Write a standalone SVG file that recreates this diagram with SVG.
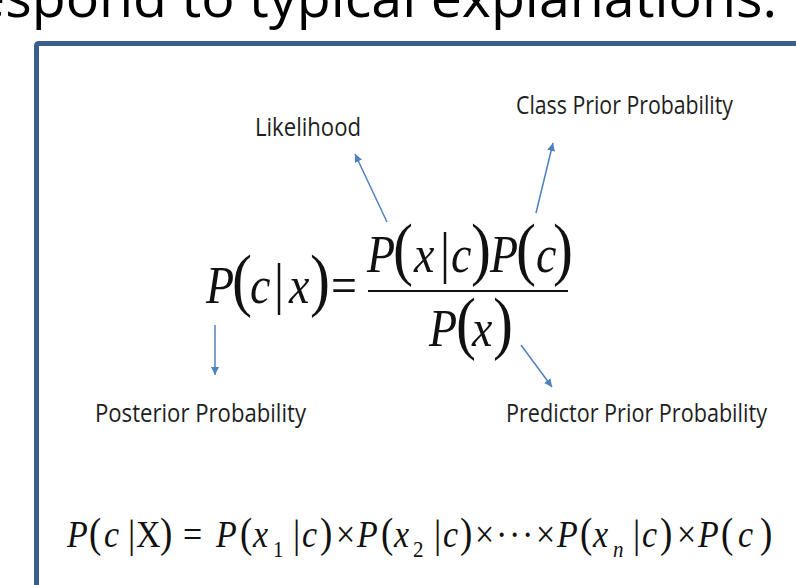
<svg xmlns="http://www.w3.org/2000/svg" width="796" height="585" viewBox="0 0 796 585">
<style>
.lbl{font-family:"Open Sans","Liberation Sans",sans-serif;font-size:26px;fill:#1e1e1e}
.m{font-family:"Liberation Serif","Times New Roman",serif;fill:#111}
.i{font-style:italic}
.con{stroke:#4f81bd;stroke-width:1.5;fill:none}
</style>
<defs>
<marker id="ah" markerUnits="userSpaceOnUse" markerWidth="9" markerHeight="8" refX="8" refY="4" orient="auto">
<path d="M0,0 L8,4 L0,8 z" fill="#4f81bd"/>
</marker>
</defs>
<rect width="796" height="585" fill="#fff"/>
<text x="-26" y="17" font-family="Open Sans, Liberation Sans, sans-serif" font-size="54" fill="#000" textLength="803" lengthAdjust="spacingAndGlyphs">espond to typical explanations.</text>
<rect id="frame" x="36.5" y="43.5" width="800" height="600" rx="2" fill="#fff" stroke="#3b5e8c" stroke-width="5"/>

<g id="formula-main">
<g transform="translate(0,303) scale(1,1.15)">
<text class="m" font-size="46" y="0"><tspan class="i" x="206">P</tspan><tspan x="232" font-size="60">(</tspan><tspan class="i" x="250">c</tspan><tspan x="274" font-size="50">|</tspan><tspan class="i" x="289">x</tspan><tspan x="310" font-size="60">)</tspan><tspan x="331">=</tspan></text>
</g>
<g transform="translate(0,272) scale(1,1.15)">
<text class="m" font-size="46" y="0"><tspan class="i" x="367">P</tspan><tspan x="393" font-size="60">(</tspan><tspan class="i" x="414">x</tspan><tspan x="440" font-size="50">|</tspan><tspan class="i" x="451">c</tspan><tspan x="471" font-size="60">)</tspan><tspan class="i" x="490">P</tspan><tspan x="516" font-size="60">(</tspan><tspan class="i" x="536">c</tspan><tspan x="553" font-size="60">)</tspan></text>
</g>
<line x1="368" y1="291" x2="568" y2="291" stroke="#111" stroke-width="2.2"/>
<g transform="translate(0,346) scale(1,1.15)">
<text class="m" font-size="46" y="0"><tspan class="i" x="429">P</tspan><tspan x="456" font-size="60">(</tspan><tspan class="i" x="472">x</tspan><tspan x="493" font-size="60">)</tspan></text>
</g>
</g>

<g id="formula-naive">
<g transform="translate(0,547) scale(1,1.12)">
<text class="m" font-size="34" y="0"><tspan class="i" x="67">P</tspan><tspan x="89" font-size="37">(</tspan><tspan class="i" x="104">c</tspan><tspan x="128" font-size="36">|</tspan><tspan x="136">X</tspan><tspan x="160" font-size="37">)</tspan><tspan x="183">=</tspan><tspan class="i" x="216">P</tspan><tspan x="240" font-size="37">(</tspan><tspan class="i" x="253">x</tspan><tspan x="293" font-size="36">|</tspan><tspan class="i" x="302">c</tspan><tspan x="320" font-size="37">)</tspan><tspan x="336">×</tspan><tspan class="i" x="357">P</tspan><tspan x="381" font-size="37">(</tspan><tspan class="i" x="394">x</tspan><tspan x="434" font-size="36">|</tspan><tspan class="i" x="443">c</tspan><tspan x="460" font-size="37">)</tspan><tspan x="475">×</tspan><tspan x="496">·</tspan><tspan x="509">·</tspan><tspan x="522">·</tspan><tspan x="536">×</tspan><tspan class="i" x="557">P</tspan><tspan x="580" font-size="37">(</tspan><tspan class="i" x="593">x</tspan><tspan x="633" font-size="36">|</tspan><tspan class="i" x="642">c</tspan><tspan x="660" font-size="37">)</tspan><tspan x="677">×</tspan><tspan class="i" x="698">P</tspan><tspan x="721" font-size="37">(</tspan><tspan class="i" x="738">c</tspan><tspan x="760" font-size="37">)</tspan></text>
<text class="m" font-size="21" y="9"><tspan x="273">1</tspan><tspan x="413">2</tspan><tspan class="i" x="613">n</tspan></text>
</g>
</g>

<g id="label-likelihood"><text class="lbl" x="255" y="136" textLength="106" lengthAdjust="spacingAndGlyphs">Likelihood</text></g>
<g id="label-class-prior"><text class="lbl" x="516" y="114" textLength="217" lengthAdjust="spacingAndGlyphs">Class Prior Probability</text></g>
<g id="label-posterior"><text class="lbl" x="95" y="422" textLength="211" lengthAdjust="spacingAndGlyphs">Posterior Probability</text></g>
<g id="label-predictor"><text class="lbl" x="506" y="422" textLength="261" lengthAdjust="spacingAndGlyphs">Predictor Prior Probability</text></g>

<g id="connectors">
<line class="con" x1="215" y1="325" x2="215" y2="375" marker-end="url(#ah)"/>
<line class="con" x1="387" y1="222" x2="355" y2="154" marker-end="url(#ah)"/>
<line class="con" x1="536" y1="213" x2="553" y2="143" marker-end="url(#ah)"/>
<line class="con" x1="521" y1="345" x2="552" y2="387" marker-end="url(#ah)"/>
</g>
</svg>
